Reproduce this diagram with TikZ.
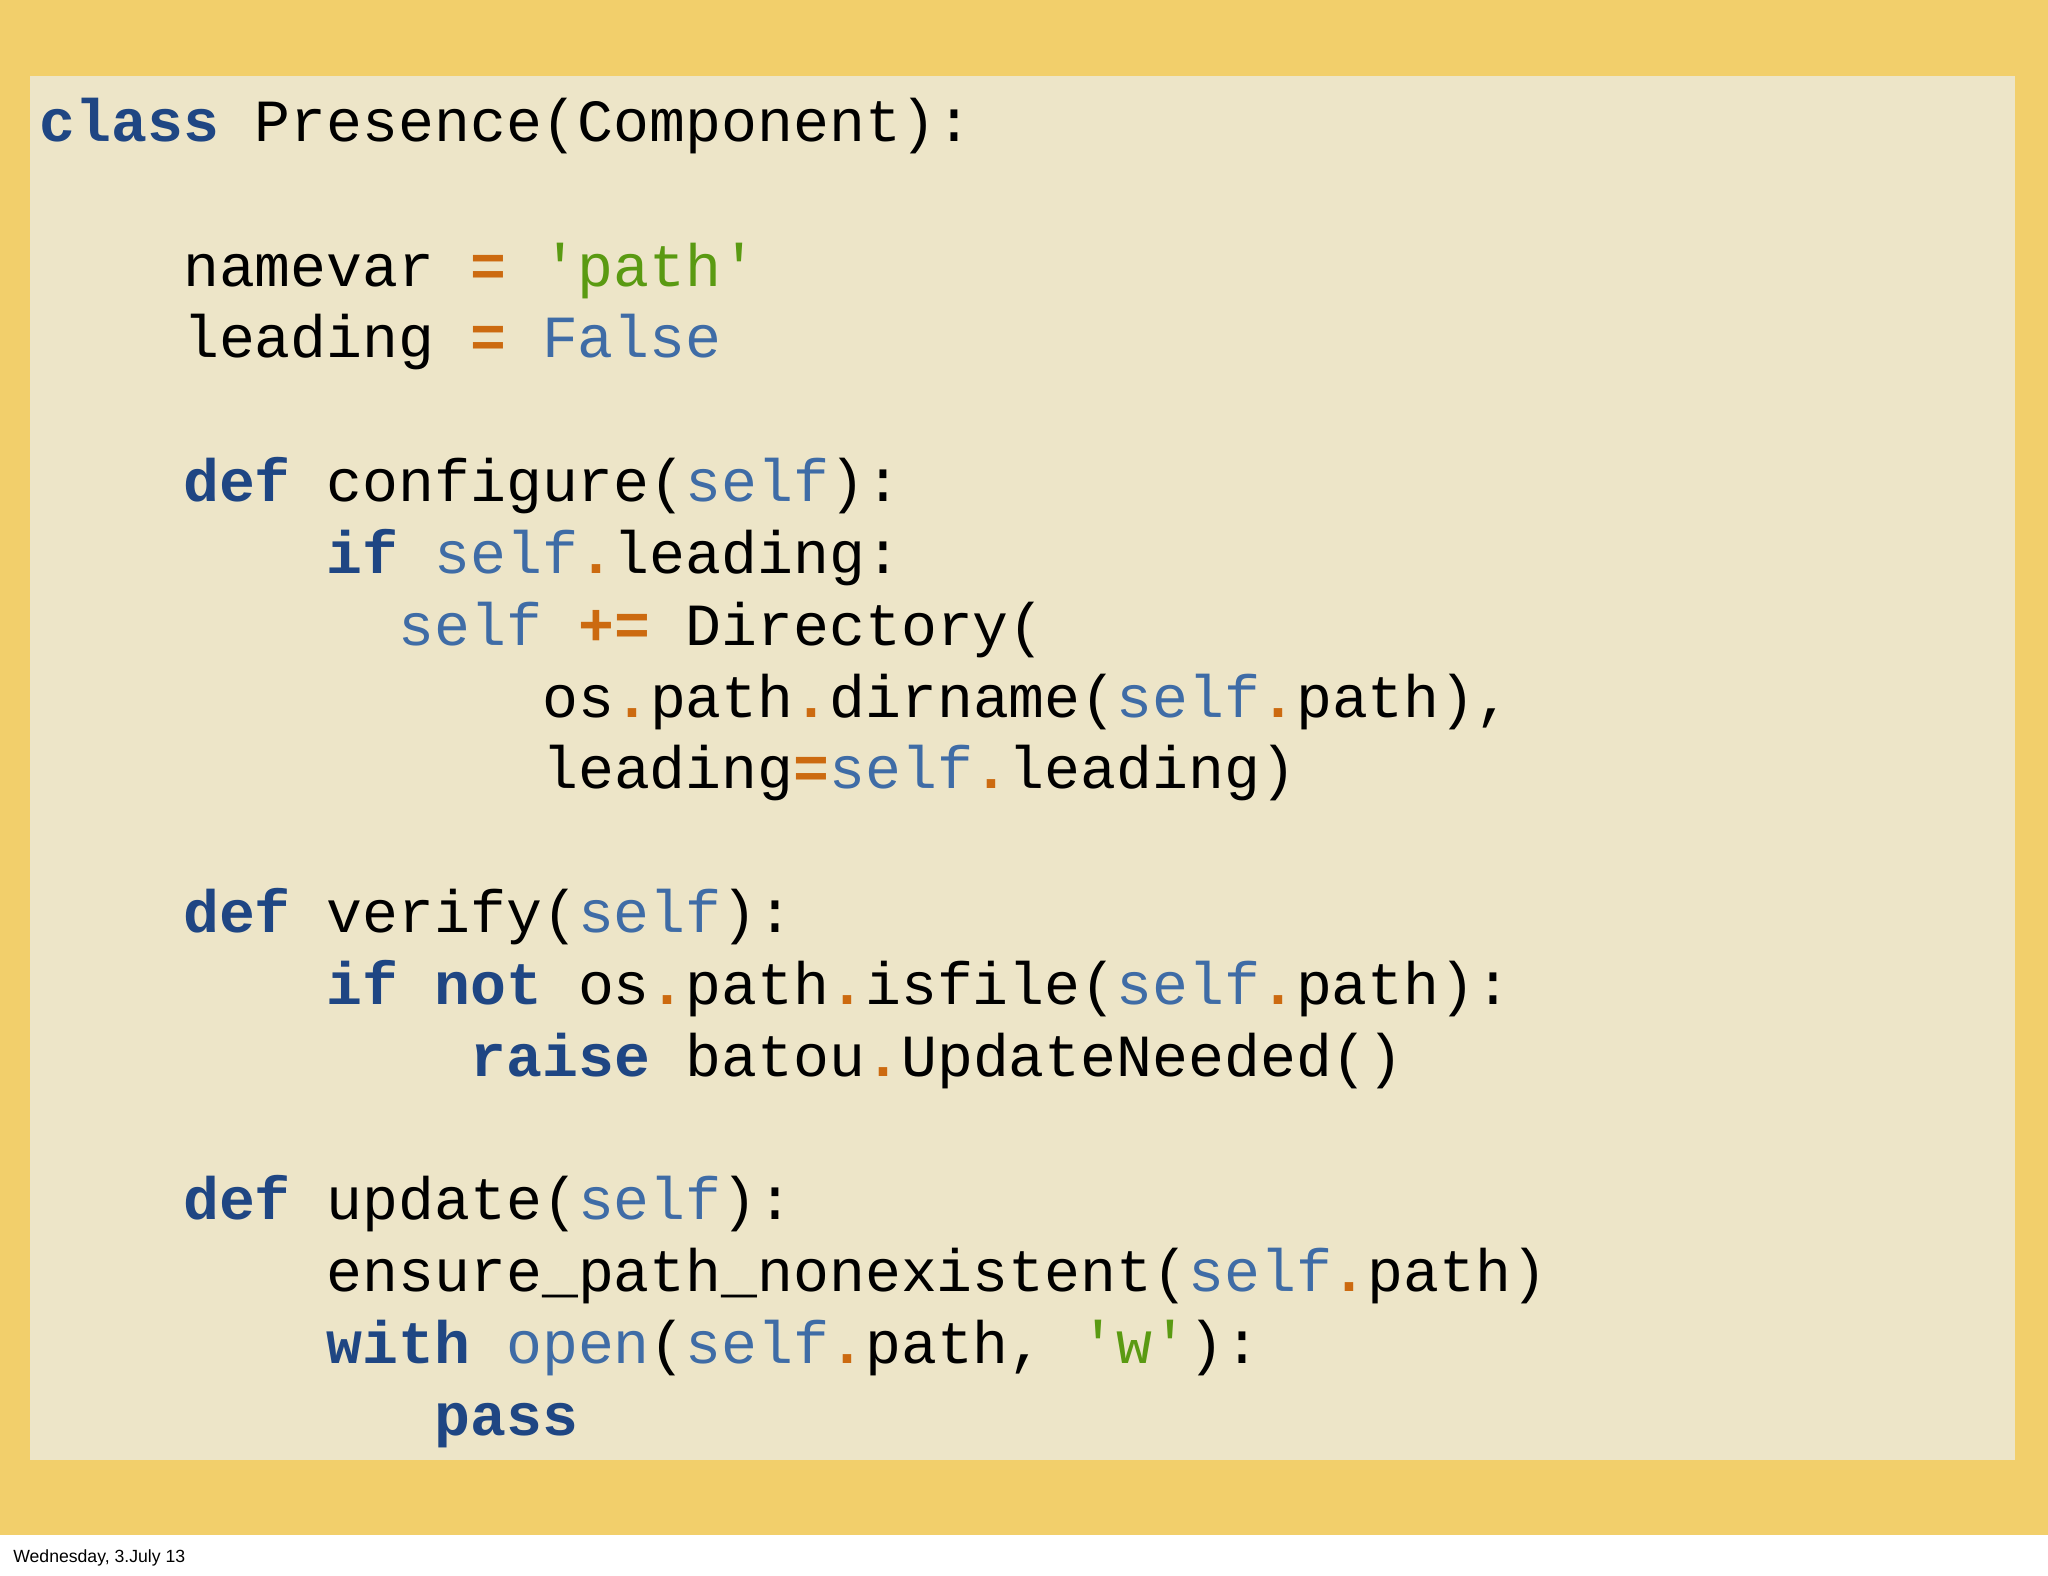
\documentclass[tikz,border=0pt]{standalone}
\usepackage{fontspec}
\setmonofont{Liberation Mono}
\setsansfont{Liberation Sans}
\definecolor{ybg}{HTML}{F2CF6B}
\definecolor{beige}{HTML}{EDE5C8}
\definecolor{kwc}{HTML}{1F4683}
\definecolor{selfc}{HTML}{3F6CA6}
\definecolor{opc}{HTML}{CC6A10}
\definecolor{stc}{HTML}{5A9A12}
\newcommand{\kw}[1]{\textcolor{kwc}{\bfseries #1}}
\newcommand{\sv}[1]{\textcolor{selfc}{#1}}
\newcommand{\op}[1]{\textcolor{opc}{\bfseries #1}}
\newcommand{\st}[1]{\textcolor{stc}{#1}}
\begin{document}
\begin{tikzpicture}[x=1pt,y=-1pt,
  code/.style={anchor=base west,inner sep=0pt,font=\ttfamily\fontsize{45.8}{55}\selectfont,text=black}]
\useasboundingbox (0,0) rectangle (1568,1206);
\fill[white] (0,0) rectangle (1568,1206);
\fill[ybg] (0,0) rectangle (1568,1175);
\fill[beige] (23,58) rectangle (1543,1118);
\def\cx#1{30+27.5*#1}
\node[code] (l1) at (\cx{0},108) {\kw{class} Presence(Component):};
\node[code] (l2) at (\cx{4},219) {namevar \op{=} \st{'path'}};
\node[code] (l3) at (\cx{4},274) {leading \op{=} \sv{False}};
\node[code] (l4) at (\cx{4},384) {\kw{def} configure(\sv{self}):};
\node[code] (l5) at (\cx{8},439) {\kw{if} \sv{self}\op{.}leading:};
\node[code] (l6) at (\cx{10},494) {\sv{self} \op{+=} Directory(};
\node[code] (l7) at (\cx{14},549) {os\op{.}path\op{.}dirname(\sv{self}\op{.}path),};
\node[code] (l8) at (\cx{14},604) {leading\op{=}\sv{self}\op{.}leading)};
\node[code] (l9) at (\cx{4},714) {\kw{def} verify(\sv{self}):};
\node[code] (l10) at (\cx{8},769) {\kw{if} \kw{not} os\op{.}path\op{.}isfile(\sv{self}\op{.}path):};
\node[code] (l11) at (\cx{12},824) {\kw{raise} batou\op{.}UpdateNeeded()};
\node[code] (l12) at (\cx{4},934) {\kw{def} update(\sv{self}):};
\node[code] (l13) at (\cx{8},989) {ensure\_path\_nonexistent(\sv{self}\op{.}path)};
\node[code] (l14) at (\cx{8},1044) {\kw{with} \sv{open}(\sv{self}\op{.}path, \st{'w'}):};
\node[code] (l15) at (\cx{11},1099) {\kw{pass}};
\node[anchor=base west,inner sep=0pt,font=\sffamily\fontsize{13.5}{16}\selectfont] (foot) at (10,1196) {Wednesday, 3.July 13};
\end{tikzpicture}
\end{document}
